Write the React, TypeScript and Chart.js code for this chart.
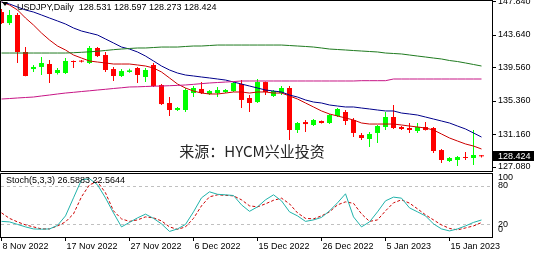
import React, { useEffect, useRef } from "react";
import { Chart, registerables } from "chart.js";

Chart.register(...registerables);

const symbol = "USDJPY";
const timeframe = "Daily";
const watermark = "来源：HYCM兴业投资";
const stochName = "Stoch(5,3,3)";

const opens = [146.52, 145.14, 146.15, 141.51, 139.37, 139.63, 140.0, 138.87, 138.87, 140.38, 140.38, 140.13, 142.01, 141.13, 139.37, 138.5, 139.0, 139.5, 138.37, 139.88, 137.37, 135.11, 134.23, 134.23, 136.36, 136.87, 136.24, 136.36, 136.49, 136.61, 137.49, 135.74, 135.23, 137.74, 135.99, 136.36, 136.99, 131.72, 132.72, 132.35, 132.85, 132.6, 133.48, 133.98, 132.98, 131.09, 130.59, 131.35, 132.1, 133.35, 132.1, 131.97, 131.6, 132.1, 131.97, 129.21, 127.83, 127.96, 128.33, 128.21, 128.531];
const highs = [146.9, 146.78, 146.4, 142.13, 139.88, 140.88, 140.5, 139.5, 140.75, 140.45, 140.5, 142.26, 142.13, 141.51, 139.63, 139.37, 139.4, 139.63, 139.5, 140.13, 137.49, 135.86, 134.6, 136.99, 137.24, 137.74, 136.74, 137.12, 136.87, 137.74, 137.99, 136.11, 138.12, 137.8, 136.74, 137.24, 137.24, 132.72, 132.98, 133.1, 132.9, 133.73, 134.48, 134.23, 133.23, 131.35, 131.47, 132.35, 133.98, 134.86, 132.22, 132.6, 132.6, 132.72, 132.1, 129.34, 128.33, 128.46, 128.96, 131.72, 128.597];
const lows = [145.02, 144.89, 140.13, 138.45, 139.0, 138.62, 137.62, 138.7, 138.75, 139.5, 140.2, 140.0, 140.88, 139.0, 137.87, 138.37, 138.9, 137.62, 137.74, 137.12, 134.86, 133.48, 134.1, 133.98, 135.86, 136.24, 136.11, 135.86, 136.36, 136.49, 134.48, 133.98, 135.11, 136.11, 135.86, 136.11, 130.47, 131.35, 131.47, 132.22, 132.55, 132.47, 133.35, 132.35, 130.84, 130.47, 129.59, 130.09, 131.72, 131.85, 131.72, 131.35, 131.35, 131.65, 128.84, 127.58, 127.71, 127.2, 127.96, 127.33, 128.273];
const closes = [145.14, 146.15, 141.51, 138.5, 139.63, 140.13, 138.75, 139.25, 140.38, 140.25, 140.3, 142.01, 141.0, 139.25, 138.5, 139.12, 139.2, 138.62, 139.25, 137.24, 134.98, 134.23, 134.48, 136.74, 136.99, 136.36, 136.61, 136.74, 136.74, 137.62, 135.49, 135.11, 137.74, 136.49, 136.61, 136.99, 131.72, 132.6, 132.47, 132.98, 132.6, 133.6, 134.36, 132.85, 131.35, 130.72, 131.22, 132.22, 133.35, 131.97, 131.85, 131.72, 132.1, 131.72, 129.09, 127.96, 128.21, 128.33, 128.21, 128.59, 128.424];

const maFast = [147.78, 147.4, 146.78, 145.77, 144.89, 143.89, 143.01, 142.26, 141.76, 141.13, 140.75, 140.38, 140.25, 140.13, 140.0, 140.0, 140.0, 139.88, 139.75, 139.5, 139.0, 138.25, 137.49, 136.99, 136.61, 136.36, 136.24, 136.24, 136.36, 136.49, 136.49, 136.36, 136.49, 136.49, 136.36, 136.36, 135.99, 135.61, 135.11, 134.61, 134.11, 133.73, 133.48, 133.23, 132.98, 132.6, 132.47, 132.47, 132.47, 132.47, 132.35, 132.22, 132.1, 131.97, 131.72, 131.22, 130.72, 130.34, 129.97, 129.71, 129.34];
const maMid = [147.78, 147.53, 147.15, 146.78, 146.52, 146.15, 145.77, 145.4, 145.02, 144.52, 144.14, 143.89, 143.64, 143.14, 142.64, 142.13, 141.88, 141.51, 141.0, 140.38, 139.75, 139.25, 138.87, 138.62, 138.5, 138.37, 138.25, 138.12, 137.99, 137.74, 137.49, 137.24, 136.99, 136.74, 136.61, 136.49, 136.11, 135.86, 135.49, 135.23, 135.11, 134.86, 134.73, 134.61, 134.61, 134.48, 134.36, 134.23, 134.11, 134.11, 133.85, 133.73, 133.6, 133.35, 133.1, 132.85, 132.6, 132.22, 131.85, 131.35, 130.84];
const maSlow = [141.38, 141.38, 141.38, 141.38, 141.38, 141.38, 141.38, 141.38, 141.38, 141.42, 141.47, 141.53, 141.6, 141.7, 141.8, 141.88, 141.95, 142.01, 142.01, 142.07, 142.13, 142.13, 142.13, 142.2, 142.26, 142.26, 142.32, 142.38, 142.38, 142.38, 142.38, 142.38, 142.38, 142.38, 142.38, 142.38, 142.32, 142.26, 142.2, 142.13, 142.01, 141.88, 141.82, 141.76, 141.69, 141.63, 141.57, 141.51, 141.38, 141.32, 141.26, 141.13, 141.0, 140.88, 140.75, 140.63, 140.44, 140.31, 140.13, 139.94, 139.75];
const maLong = [135.61, 135.67, 135.74, 135.8, 135.86, 135.99, 136.11, 136.24, 136.36, 136.45, 136.55, 136.64, 136.74, 136.83, 136.93, 137.02, 137.12, 137.14, 137.18, 137.22, 137.24, 137.28, 137.32, 137.37, 137.45, 137.54, 137.62, 137.68, 137.74, 137.8, 137.87, 137.87, 137.87, 137.87, 137.87, 137.87, 137.87, 137.87, 137.87, 137.87, 137.87, 137.87, 137.87, 137.87, 137.87, 137.91, 137.91, 137.91, 137.91, 138.12, 138.12, 138.12, 138.12, 138.12, 138.12, 138.12, 138.12, 138.12, 138.12, 138.12, 138.12];

const stochMain = [24.4, 23.6, 19.7, 15.8, 12.6, 12.2, 12.6, 18.1, 33.0, 61.2, 89.4, 91.0, 81.6, 61.0, 37.6, 15.8, 22.8, 29.9, 35.7, 29.1, 20.5, 8.7, 12.6, 19.7, 39.3, 61.2, 70.6, 66.7, 65.9, 64.8, 50.2, 40.1, 47.1, 58.1, 65.9, 56.5, 39.3, 33.0, 24.4, 26.7, 30.6, 40.8, 53.4, 67.5, 31.4, 15.8, 23.6, 39.3, 56.5, 62.3, 60.7, 45.5, 39.3, 33.0, 20.5, 12.6, 9.5, 12.6, 17.3, 22.8, 26.5883];
const stochSignal = [37.7, 29.1, 23.6, 18.9, 15.8, 12.6, 12.6, 17.3, 23.6, 36.1, 62.8, 81.6, 86.3, 69.0, 40.8, 28.3, 24.4, 26.7, 31.4, 29.9, 25.2, 15.8, 11.9, 15.8, 29.1, 48.7, 62.8, 65.9, 65.1, 64.3, 58.1, 48.7, 47.1, 51.8, 57.3, 60.7, 51.8, 37.7, 29.1, 28.3, 33.0, 39.3, 50.2, 54.9, 52.6, 36.1, 24.4, 26.7, 40.8, 53.4, 58.1, 52.9, 44.0, 34.6, 26.7, 18.9, 13.4, 11.1, 14.2, 17.3, 22.5644];

const xTickIndex = [0, 8, 16, 24, 32, 40, 48, 56];
const xTickLabels = ["8 Nov 2022", "17 Nov 2022", "27 Nov 2022", "6 Dec 2022", "15 Dec 2022", "26 Dec 2022", "5 Jan 2023", "15 Jan 2023"];
const priceTicks = [147.84, 143.64, 139.56, 135.36, 131.16, 127.08];
const stochDashLevels = [80, 20];
const stochAxisLabels = [100, 80, 20, 0];

const X_MIN = -0.1875;
const X_MAX = 61.3125;
const PRICE_MIN = 126.4536;
const PRICE_MAX = 148.031;
const FONT = "'Liberation Sans', Arial, sans-serif";

export default function App() {
  const mainRef = useRef<HTMLCanvasElement>(null);
  const stochRef = useRef<HTMLCanvasElement>(null);

  useEffect(() => {
    const up = closes.map((c, i) => c >= opens[i]);
    const candleColor = up.map((u) => (u ? "#00ff00" : "#ff0000"));
    const last = closes.length - 1;

    const mainPlugin = {
      id: "mainDecor",
      afterDraw(chart: any) {
        const { ctx, chartArea } = chart;
        const ys = chart.scales.y;
        ctx.save();
        ctx.strokeStyle = "#000";
        ctx.lineWidth = 1;
        ctx.beginPath();
        ctx.moveTo(0.5, chartArea.bottom - 0.5);
        ctx.lineTo(0.5, 0.5);
        ctx.lineTo(chartArea.right + 0.5, 0.5);
        ctx.moveTo(0.5, chartArea.bottom - 0.5);
        ctx.lineTo(chartArea.right + 0.5, chartArea.bottom - 0.5);
        ctx.stroke();
        // header icon
        ctx.fillStyle = "#000";
        ctx.beginPath();
        ctx.moveTo(2, 2);
        ctx.lineTo(8, 2);
        ctx.lineTo(5, 6);
        ctx.closePath();
        ctx.fill();
        // header text
        ctx.font = `9px ${FONT}`;
        ctx.textBaseline = "alphabetic";
        ctx.textAlign = "left";
        const hdr = `${symbol},${timeframe}  ${opens[last].toFixed(3)} ${highs[last].toFixed(3)} ${lows[last].toFixed(3)} ${closes[last].toFixed(3)}`;
        ctx.fillText(hdr, 17, 10);
        // watermark
        ctx.font = "15px 'Noto Sans CJK SC', sans-serif";
        ctx.fillStyle = "#262626";
        ctx.textAlign = "center";
        ctx.textBaseline = "middle";
        ctx.fillText(watermark, 252, 151);
        // price tag
        const py = ys.getPixelForValue(closes[last]);
        ctx.fillStyle = "#000";
        ctx.fillRect(chartArea.right + 1, Math.round(py) - 5, 41, 10);
        ctx.fillStyle = "#fff";
        ctx.font = `9px ${FONT}`;
        ctx.textAlign = "left";
        ctx.fillText(closes[last].toFixed(3), chartArea.right + 6, Math.round(py) + 0.5);
        ctx.restore();
      },
    };

    const lineDs = (data: number[], color: string) => ({
      type: "line" as const,
      data: data.map((y, x) => ({ x, y })),
      borderColor: color,
      borderWidth: 1,
      pointRadius: 0,
      tension: 0,
      order: 1,
    });

    const main = new Chart(mainRef.current as HTMLCanvasElement, {
      type: "bar",
      data: {
        datasets: [
          lineDs(maLong, "#c71585"),
          lineDs(maSlow, "#1f7a1f"),
          lineDs(maMid, "#00008b"),
          lineDs(maFast, "#cc0000"),
          {
            type: "bar",
            data: lows.map((l, i) => ({ x: i, y: [l, highs[i]] })),
            backgroundColor: candleColor,
            borderWidth: 0,
            barThickness: 1,
            grouped: false,
            inflateAmount: 0,
            order: 10,
          } as any,
          {
            type: "bar",
            data: opens.map((o, i) => ({ x: i, y: [o, closes[i]] })),
            backgroundColor: candleColor,
            borderWidth: 0,
            barThickness: 5,
            grouped: false,
            minBarLength: 1,
            inflateAmount: 0,
            order: 9,
          } as any,
        ],
      },
      options: {
        responsive: false,
        animation: false,
        devicePixelRatio: 1,
        layout: { padding: 0 },
        plugins: { legend: { display: false }, tooltip: { enabled: false } },
        scales: {
          x: { type: "linear", min: X_MIN, max: X_MAX, display: false, offset: false },
          y: {
            type: "linear",
            position: "right",
            min: PRICE_MIN,
            max: PRICE_MAX,
            afterBuildTicks: (s: any) => {
              s.ticks = priceTicks.map((v) => ({ value: v }));
            },
            afterFit: (s: any) => {
              s.width = 45;
              s.paddingTop = 0;
              s.paddingBottom = 0;
            },
            grid: { drawOnChartArea: false, drawTicks: true, tickLength: 4, color: "#000", tickColor: "#000" },
            border: { display: true, color: "#000" },
            ticks: {
              padding: 2,
              color: "#000",
              autoSkip: false,
              font: { family: FONT, size: 9 },
              callback: (v: any) => Number(v).toFixed(3),
            },
          },
        },
      } as any,
      plugins: [mainPlugin],
    });

    const stochPlugin = {
      id: "stochDecor",
      beforeDatasetsDraw(chart: any) {
        const { ctx, chartArea } = chart;
        const ys = chart.scales.y;
        ctx.save();
        ctx.strokeStyle = "#c0c0c0";
        ctx.lineWidth = 1;
        ctx.setLineDash([3, 3]);
        stochDashLevels.forEach((lv) => {
          const y = Math.round(ys.getPixelForValue(lv)) + 0.5;
          ctx.beginPath();
          ctx.moveTo(chartArea.left + 1, y);
          ctx.lineTo(chartArea.right, y);
          ctx.stroke();
        });
        ctx.restore();
      },
      afterDraw(chart: any) {
        const { ctx, chartArea } = chart;
        const ys = chart.scales.y;
        ctx.save();
        ctx.strokeStyle = "#000";
        ctx.lineWidth = 1;
        ctx.beginPath();
        ctx.moveTo(0.5, chartArea.bottom);
        ctx.lineTo(0.5, 0.5);
        ctx.lineTo(chartArea.right + 0.5, 0.5);
        ctx.stroke();
        ctx.fillStyle = "#000";
        ctx.font = `9px ${FONT}`;
        ctx.textAlign = "left";
        ctx.textBaseline = "middle";
        stochAxisLabels.forEach((lv) => {
          let y = ys.getPixelForValue(lv);
          y = Math.min(Math.max(y, chartArea.top + 5), chartArea.bottom - 7);
          ctx.fillText(String(lv), chartArea.right + 6, y);
        });
        ctx.textBaseline = "alphabetic";
        const last = stochMain.length - 1;
        ctx.fillText(`${stochName} ${stochMain[last].toFixed(4)} ${stochSignal[last].toFixed(4)}`, 6, 10);
        ctx.restore();
      },
    };

    const stoch = new Chart(stochRef.current as HTMLCanvasElement, {
      type: "line",
      data: {
        datasets: [
          {
            data: stochMain.map((y, x) => ({ x, y })),
            borderColor: "#20b2aa",
            borderWidth: 1,
            pointRadius: 0,
            tension: 0,
          },
          {
            data: stochSignal.map((y, x) => ({ x, y })),
            borderColor: "#cc0000",
            borderWidth: 1,
            borderDash: [3, 2],
            pointRadius: 0,
            tension: 0,
          },
        ],
      },
      options: {
        responsive: false,
        animation: false,
        devicePixelRatio: 1,
        layout: { padding: 0 },
        plugins: { legend: { display: false }, tooltip: { enabled: false } },
        scales: {
          x: {
            type: "linear",
            min: X_MIN,
            max: X_MAX,
            offset: false,
            afterBuildTicks: (s: any) => {
              s.ticks = xTickIndex.map((v) => ({ value: v }));
            },
            afterFit: (s: any) => {
              s.height = 21;
              s.paddingLeft = 0;
              s.paddingRight = 0;
            },
            grid: { drawOnChartArea: false, drawTicks: true, tickLength: 4, color: "#000", tickColor: "#000" },
            border: { display: true, color: "#000" },
            ticks: {
              align: "start",
              labelOffset: 1,
              padding: 0,
              maxRotation: 0,
              autoSkip: false,
              color: "#000",
              font: { family: FONT, size: 9 },
              callback: (_v: any, i: number) => xTickLabels[i],
            },
          },
          y: {
            type: "linear",
            position: "right",
            min: 0,
            max: 100,
            afterBuildTicks: (s: any) => {
              s.ticks = [];
            },
            afterFit: (s: any) => {
              s.width = 45;
              s.paddingTop = 0;
              s.paddingBottom = 0;
            },
            grid: { display: false },
            border: { display: true, color: "#000" },
            ticks: { display: false },
          },
        },
      } as any,
      plugins: [stochPlugin],
    });

    return () => {
      main.destroy();
      stoch.destroy();
    };
  }, []);

  return (
    <div style={{ position: "absolute", left: 0, top: 0, width: 537, height: 258, background: "#fff" }}>
      <canvas ref={mainRef} width={537} height={172} style={{ position: "absolute", left: 0, top: 0, display: "block" }} />
      <canvas ref={stochRef} width={537} height={85} style={{ position: "absolute", left: 0, top: 173, display: "block" }} />
    </div>
  );
}
